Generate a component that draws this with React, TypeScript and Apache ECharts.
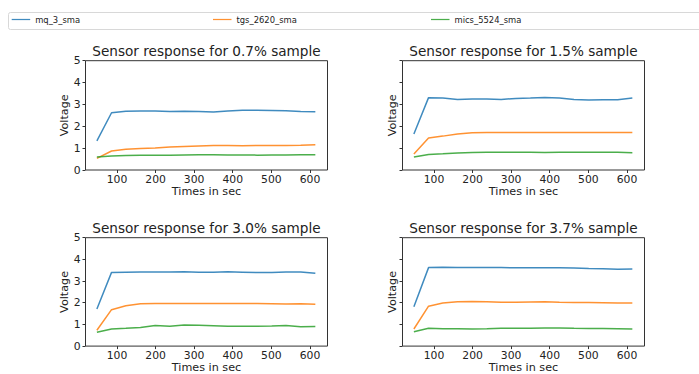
import React, { useEffect, useRef } from "react";
import * as echarts from "echarts";

const seriesNames = ["mq_3_sma", "tgs_2620_sma", "mics_5524_sma"];
const colors = ["#1f77b4", "#ff7f0e", "#2ca02c"];
const titles = [
  "Sensor response for 0.7% sample",
  "Sensor response for 1.5% sample",
  "Sensor response for 3.0% sample",
  "Sensor response for 3.7% sample",
];
const xTicks = [100, 200, 300, 400, 500, 600];
const yTicks = [0, 1, 2, 3, 4, 5];
const times = [48, 86, 123, 161, 199, 237, 274, 312, 350, 387, 425, 463, 501, 538, 576, 614];

// 0.7% sample
const mq3_07 = [1.33, 2.62, 2.69, 2.7, 2.7, 2.68, 2.69, 2.68, 2.65, 2.7, 2.73, 2.73, 2.72, 2.71, 2.68, 2.67];
const tgs_07 = [0.53, 0.87, 0.95, 0.98, 1.01, 1.05, 1.08, 1.1, 1.12, 1.12, 1.11, 1.12, 1.12, 1.12, 1.13, 1.15];
const mics_07 = [0.59, 0.64, 0.66, 0.67, 0.67, 0.68, 0.69, 0.7, 0.7, 0.69, 0.69, 0.68, 0.69, 0.69, 0.7, 0.7];
// 1.5% sample
const mq3_15 = [1.65, 3.31, 3.29, 3.23, 3.25, 3.25, 3.23, 3.27, 3.29, 3.32, 3.29, 3.23, 3.2, 3.21, 3.21, 3.29];
const tgs_15 = [0.73, 1.46, 1.55, 1.65, 1.7, 1.71, 1.72, 1.72, 1.72, 1.72, 1.72, 1.72, 1.72, 1.71, 1.71, 1.71];
const mics_15 = [0.59, 0.71, 0.74, 0.78, 0.8, 0.81, 0.81, 0.81, 0.81, 0.8, 0.81, 0.81, 0.81, 0.81, 0.81, 0.79];
// 3.0% sample
const mq3_30 = [1.71, 3.4, 3.41, 3.42, 3.42, 3.42, 3.43, 3.41, 3.41, 3.43, 3.41, 3.39, 3.4, 3.42, 3.42, 3.36];
const tgs_30 = [0.73, 1.68, 1.86, 1.95, 1.96, 1.96, 1.96, 1.96, 1.96, 1.96, 1.96, 1.96, 1.95, 1.94, 1.95, 1.93];
const mics_30 = [0.64, 0.79, 0.82, 0.86, 0.95, 0.91, 0.97, 0.96, 0.94, 0.92, 0.92, 0.92, 0.93, 0.95, 0.89, 0.9];
// 3.7% sample
const mq3_37 = [1.82, 3.62, 3.64, 3.63, 3.63, 3.62, 3.62, 3.61, 3.61, 3.61, 3.61, 3.6, 3.58, 3.57, 3.54, 3.56];
const tgs_37 = [0.79, 1.84, 1.99, 2.04, 2.06, 2.05, 2.02, 2.02, 2.03, 2.04, 2.02, 2.01, 2.01, 2.0, 1.99, 1.99];
const mics_37 = [0.66, 0.82, 0.8, 0.8, 0.79, 0.8, 0.82, 0.82, 0.82, 0.83, 0.84, 0.82, 0.81, 0.81, 0.8, 0.79];

const panels = [
  [mq3_07, tgs_07, mics_07],
  [mq3_15, tgs_15, mics_15],
  [mq3_30, tgs_30, mics_30],
  [mq3_37, tgs_37, mics_37],
];

const FONT = "DejaVu Sans";

export default function App() {
  const ref = useRef<HTMLDivElement>(null);
  useEffect(() => {
    if (!ref.current) return;
    const chart = echarts.init(ref.current, null, { renderer: "svg" });
    const gridPos = [
      { left: 85.5, top: 60.7, width: 242, height: 109.3 },
      { left: 402.5, top: 60.7, width: 242, height: 109.3 },
      { left: 85.5, top: 237.7, width: 242, height: 110 },
      { left: 402.5, top: 237.7, width: 242, height: 110 },
    ];
    const axisColor = "#333";
    const grid = gridPos.map((g) => ({
      ...g,
      show: true,
      borderColor: axisColor,
      borderWidth: 1,
      backgroundColor: "#fff",
    }));
    const xAxis = gridPos.map((_, i) => ({
      type: "value",
      gridIndex: i,
      min: 18.5,
      max: 645.5,
      name: "Times in sec",
      nameLocation: "middle",
      nameGap: 15,
      nameTextStyle: { fontFamily: FONT, fontSize: 11.2, color: "#222" },
      axisLine: { show: false },
      splitLine: { show: false },
      axisTick: {
        show: true,
        length: 3,
        customValues: xTicks,
        lineStyle: { color: axisColor },
      },
      axisLabel: {
        customValues: xTicks,
        margin: 4,
        fontFamily: FONT,
        fontSize: 10.8,
        color: "#222",
      },
    }));
    const yAxis = gridPos.map((_, i) => ({
      type: "value",
      gridIndex: i,
      min: 0,
      max: 5,
      interval: 1,
      name: "Voltage",
      nameLocation: "middle",
      nameGap: i % 2 === 0 ? 16 : 4.5,
      nameTextStyle: { fontFamily: FONT, fontSize: 11.2, color: "#222" },
      axisLine: { show: false },
      splitLine: { show: false },
      axisTick: { show: true, length: 3, lineStyle: { color: axisColor } },
      axisLabel: {
        show: i % 2 === 0,
        margin: 5,
        fontFamily: FONT,
        fontSize: 10.8,
        color: "#222",
        customValues: yTicks,
      },
    }));
    const title = gridPos.map((g, i) => ({
      text: titles[i],
      left: g.left + g.width / 2,
      textAlign: "center",
      top: g.top - 17,
      padding: 0,
      textStyle: {
        fontFamily: FONT,
        fontSize: 13.6,
        fontWeight: "normal",
        color: "#222",
      },
    }));
    const series: any[] = [];
    panels.forEach((panel, pi) => {
      panel.forEach((vals, si) => {
        series.push({
          type: "line",
          name: seriesNames[si],
          xAxisIndex: pi,
          yAxisIndex: pi,
          data: times.map((t, k) => [t, vals[k]]),
          symbol: "none",
          showSymbol: false,
          color: colors[si],
          lineStyle: { width: 1.5, color: colors[si], opacity: 0.85 },
        });
      });
    });
    const legendLefts = [11.7, 213, 431];
    const legend = seriesNames.map((n, i) => ({
      data: [n],
      left: legendLefts[i],
      top: 15.5,
      padding: 0,
      itemWidth: 18.5,
      itemHeight: 10,
      icon: "path://M0,4.4 L18,4.4 L18,5.6 L0,5.6 Z",
      textStyle: { fontFamily: FONT, fontSize: 8.4, color: "#222" },
      itemStyle: { color: colors[i], opacity: 0.85 },
      selectedMode: false,
    }));
    chart.setOption({
      animation: false,
      backgroundColor: "#fff",
      title,
      grid,
      xAxis,
      yAxis,
      series,
      legend,
      graphic: [
        {
          type: "rect",
          z: -1,
          shape: { x: 8.5, y: 12.5, width: 700, height: 17, r: 2 },
          style: { fill: "#fff", stroke: "#d8d8d8", lineWidth: 1 },
        },
      ],
    });
    return () => chart.dispose();
  }, []);
  return (
    <div
      ref={ref}
      style={{ position: "fixed", left: 0, top: 0, width: 699, height: 374 }}
    />
  );
}
